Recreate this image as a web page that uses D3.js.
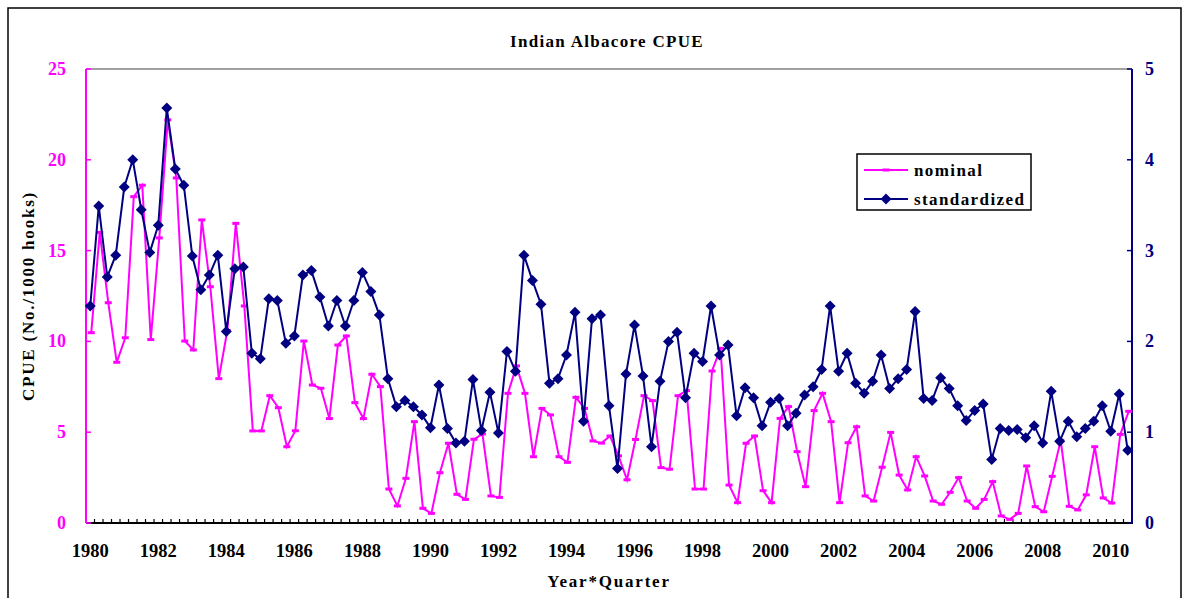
<!DOCTYPE html>
<html>
<head>
<meta charset="utf-8">
<script src="https://cdn.jsdelivr.net/npm/d3@7"></script>
<style>
  html, body { margin: 0; padding: 0; background: #fff; }
  svg { display: block; }
  text { font-family: "Liberation Serif", "Times New Roman", serif; font-weight: bold; }
</style>
</head>
<body>
<svg id="chart" width="1190" height="598"></svg>
<script>
// ---- data ----
const years = d3.range(1980, 2011);
const quarterNames = ["Q1", "Q2", "Q3", "Q4"];
const categories = years.flatMap(y => quarterNames.map(q => y + q)).slice(0, 123);

const xTickLabels = ["1980","1982","1984","1986","1988","1990","1992","1994","1996","1998","2000","2002","2004","2006","2008","2010"];
const leftTicks = [0, 5, 10, 15, 20, 25];
const rightTicks = [0, 1, 2, 3, 4, 5];

const nominal = [
  10.48, 16.0, 12.13, 8.85, 10.2, 17.97, 18.6, 10.1, 15.7, 22.2,
  19.0, 10.02, 9.53, 16.69, 13.01, 7.95, 10.6, 16.5, 11.95, 5.07,
  5.07, 7.01, 6.35, 4.20, 5.08, 10.02, 7.60, 7.42, 5.75, 9.80,
  10.30, 6.63, 5.75, 8.19, 7.51, 1.87, 0.94, 2.46, 5.58, 0.81,
  0.53, 2.77, 4.39, 1.58, 1.30, 4.61, 4.90, 1.49, 1.41, 7.14,
  8.65, 7.14, 3.65, 6.31, 5.95, 3.65, 3.34, 6.92, 6.31, 4.52,
  4.40, 4.79, 3.70, 2.38, 4.60, 7.01, 6.74, 3.05, 2.96, 7.01,
  7.29, 1.87, 1.87, 8.37, 9.62, 2.09, 1.12, 4.39, 4.79, 1.78,
  1.12, 5.76, 6.41, 3.93, 2.00, 6.19, 7.14, 5.58, 1.12, 4.42,
  5.30, 1.49, 1.21, 3.07, 4.99, 2.64, 1.82, 3.65, 2.59, 1.21,
  1.03, 1.69, 2.50, 1.21, 0.81, 1.30, 2.28, 0.39, 0.20, 0.53,
  3.14, 0.90, 0.62, 2.57, 4.55, 0.92, 0.72, 1.55, 4.20, 1.38,
  1.10, 4.88, 6.15
];

const standardized = [
  2.39, 3.49, 2.71, 2.95, 3.70, 4.00, 3.45, 2.98, 3.28, 4.57,
  3.90, 3.72, 2.94, 2.57, 2.73, 2.95, 2.11, 2.80, 2.82, 1.87,
  1.81, 2.47, 2.45, 1.98, 2.06, 2.73, 2.78, 2.49, 2.17, 2.45,
  2.17, 2.45, 2.76, 2.55, 2.29, 1.59, 1.28, 1.35, 1.28, 1.19,
  1.05, 1.52, 1.04, 0.88, 0.90, 1.58, 1.02, 1.44, 0.99, 1.89,
  1.67, 2.95, 2.67, 2.41, 1.54, 1.59, 1.85, 2.32, 1.12, 2.25,
  2.29, 1.29, 0.60, 1.64, 2.18, 1.62, 0.84, 1.56, 2.00, 2.10,
  1.38, 1.87, 1.78, 2.39, 1.85, 1.96, 1.18, 1.49, 1.38, 1.07,
  1.33, 1.37, 1.07, 1.21, 1.41, 1.50, 1.69, 2.39, 1.67, 1.87,
  1.54, 1.43, 1.56, 1.85, 1.48, 1.59, 1.69, 2.33, 1.37, 1.35,
  1.60, 1.48, 1.29, 1.13, 1.24, 1.31, 0.70, 1.04, 1.02, 1.03,
  0.94, 1.07, 0.88, 1.45, 0.90, 1.12, 0.95, 1.04, 1.12, 1.29,
  1.01, 1.42, 0.80
];

// ---- layout ----
const PINK = "#FF00FF", NAVY = "#000080";
const plotL = 86, plotR = 1132, plotT = 69, plotB = 523;
const svg = d3.select("#chart");

// chart frame
svg.append("rect").attr("x", 8).attr("y", 8).attr("width", 1173).attr("height", 620)
  .attr("fill", "none").attr("stroke", "#000").attr("stroke-width", 1.5);

const x = d3.scaleBand().domain(categories).range([plotL, plotR]).padding(0);
const yL = d3.scaleLinear().domain([0, 25]).range([plotB, plotT]);
const yR = d3.scaleLinear().domain([0, 5]).range([plotB, plotT]);
const cx = c => x(c) + x.bandwidth() / 2;

// plot area top border (gray)
svg.append("line").attr("x1", plotL).attr("x2", plotR).attr("y1", plotT).attr("y2", plotT)
  .attr("stroke", "#808080").attr("stroke-width", 1.5);

// bottom axis
const bx = svg.append("g");
bx.append("line").attr("x1", plotL).attr("x2", plotR + 1).attr("y1", plotB).attr("y2", plotB)
  .attr("stroke", "#000").attr("stroke-width", 2);
const boundaries = categories.map(c => x(c)).concat([plotR]);
bx.selectAll("line.tk").data(boundaries).enter().append("line").attr("class", "tk")
  .attr("x1", d => d).attr("x2", d => d).attr("y1", plotB).attr("y2", plotB - 4)
  .attr("stroke", "#000").attr("stroke-width", 1.2);
bx.selectAll("text").data(xTickLabels).enter().append("text")
  .attr("x", d => cx(d + "Q1")).attr("y", 557)
  .attr("text-anchor", "middle").attr("font-size", 18.5).attr("fill", "#000")
  .text(d => d);

// left axis
const lx = svg.append("g");
lx.append("line").attr("x1", plotL).attr("x2", plotL).attr("y1", plotT).attr("y2", plotB)
  .attr("stroke", PINK).attr("stroke-width", 2);
lx.selectAll("line.tk").data(leftTicks).enter().append("line").attr("class", "tk")
  .attr("x1", plotL).attr("x2", plotL + 5).attr("y1", d => yL(d)).attr("y2", d => yL(d))
  .attr("stroke", PINK).attr("stroke-width", 1.5);
lx.selectAll("text").data(leftTicks).enter().append("text")
  .attr("x", 66).attr("y", d => yL(d) + 6)
  .attr("text-anchor", "end").attr("font-size", 18).attr("fill", PINK)
  .text(d => d);

// right axis
const rx = svg.append("g");
rx.append("line").attr("x1", plotR).attr("x2", plotR).attr("y1", plotT).attr("y2", plotB)
  .attr("stroke", NAVY).attr("stroke-width", 2);
rx.selectAll("line.tk").data(rightTicks).enter().append("line").attr("class", "tk")
  .attr("x1", plotR - 5).attr("x2", plotR).attr("y1", d => yR(d)).attr("y2", d => yR(d))
  .attr("stroke", NAVY).attr("stroke-width", 1.5);
rx.selectAll("text").data(rightTicks).enter().append("text")
  .attr("x", 1145).attr("y", d => yR(d) + 6)
  .attr("text-anchor", "start").attr("font-size", 18).attr("fill", NAVY)
  .text(d => d);

// titles
svg.append("text").attr("x", 607).attr("y", 47).attr("text-anchor", "middle")
  .attr("font-size", 17).attr("letter-spacing", 1.3).attr("fill", "#000").text("Indian Albacore CPUE");
svg.append("text").attr("x", 609).attr("y", 587).attr("text-anchor", "middle")
  .attr("font-size", 17).attr("letter-spacing", 1.8).attr("fill", "#000").text("Year*Quarter");
svg.append("text").attr("transform", "translate(34,296) rotate(-90)").attr("text-anchor", "middle")
  .attr("font-size", 17).attr("letter-spacing", 1.8).attr("fill", "#000").text("CPUE (No./1000 hooks)");

// series: nominal
const nomData = categories.map((c, i) => ({ c, v: nominal[i] }));
const stdData = categories.map((c, i) => ({ c, v: standardized[i] }));

svg.append("path").datum(nomData)
  .attr("d", d3.line().x(d => cx(d.c) + 1).y(d => yL(d.v)))
  .attr("fill", "none").attr("stroke", PINK).attr("stroke-width", 2);
svg.selectAll("rect.nm").data(nomData).enter().append("rect").attr("class", "nm")
  .attr("x", d => cx(d.c) + 1 - 3.5).attr("y", d => yL(d.v) - 1.5)
  .attr("width", 7).attr("height", 3).attr("fill", PINK);

// series: standardized
svg.append("path").datum(stdData)
  .attr("d", d3.line().x(d => cx(d.c)).y(d => yR(d.v)))
  .attr("fill", "none").attr("stroke", NAVY).attr("stroke-width", 2);
const diamond = "M0,-5.5L5.5,0L0,5.5L-5.5,0Z";
svg.selectAll("path.dm").data(stdData).enter().append("path").attr("class", "dm")
  .attr("d", diamond)
  .attr("transform", d => `translate(${cx(d.c)},${yR(d.v)})`)
  .attr("fill", NAVY);

// legend
const lg = svg.append("g");
lg.append("rect").attr("x", 857).attr("y", 154).attr("width", 174).attr("height", 56)
  .attr("fill", "#fff").attr("stroke", "#000").attr("stroke-width", 1.5);
lg.append("line").attr("x1", 864).attr("x2", 908).attr("y1", 170).attr("y2", 170)
  .attr("stroke", PINK).attr("stroke-width", 2);
lg.append("rect").attr("x", 882.5).attr("y", 168.5).attr("width", 7).attr("height", 3).attr("fill", PINK);
lg.append("line").attr("x1", 864).attr("x2", 908).attr("y1", 199).attr("y2", 199)
  .attr("stroke", NAVY).attr("stroke-width", 2);
lg.append("path").attr("d", diamond).attr("transform", "translate(886,199)").attr("fill", NAVY);
lg.append("text").attr("x", 914).attr("y", 176).attr("font-size", 17).attr("letter-spacing", 1.4)
  .attr("fill", "#000").text("nominal");
lg.append("text").attr("x", 914).attr("y", 205).attr("font-size", 17).attr("letter-spacing", 1.4)
  .attr("fill", "#000").text("standardized");
</script>
</body>
</html>
